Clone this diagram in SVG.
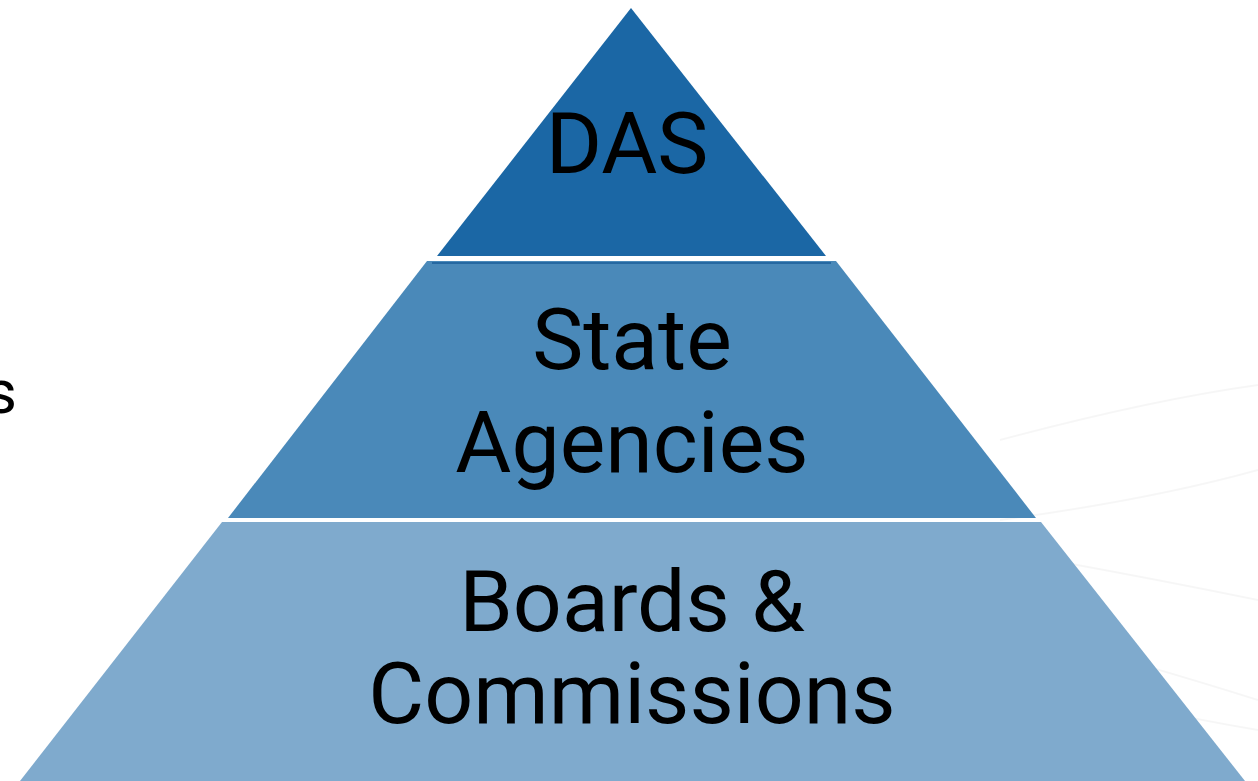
<svg xmlns="http://www.w3.org/2000/svg" width="1258" height="781" viewBox="0 0 1258 781">
<style>
.lbl{font-family:Roboto,"Liberation Sans",sans-serif;font-size:86px;fill:#000;text-anchor:middle}
.bg{fill:none;stroke:#000;stroke-opacity:0.035;stroke-width:2}
</style>
<rect width="1258" height="781" fill="#fff"/>
<g id="background">
<path class="bg" d="M1000 440 Q1150 400 1258 385"/>
<path class="bg" d="M1000 520 Q1150 500 1258 470"/>
<path class="bg" d="M1050 560 Q1160 580 1258 600"/>
<path class="bg" d="M900 600 Q1100 650 1258 700"/>
<path class="bg" d="M880 640 Q1080 700 1258 730"/>
<path class="bg" d="M300 720 Q500 680 700 690"/>
</g>
<g id="tier-das">
<polygon points="631,8 826,256 437,256" fill="#1B67A5"/>
<text class="lbl" x="627" y="173">DAS</text>
</g>
<g id="tier-state-agencies">
<polygon points="427,261 836,261 1036,518 228,518" fill="#4A89B9"/>
<line x1="432" y1="263" x2="831" y2="263" stroke="#1B5E9A" stroke-width="1.5"/>
<text class="lbl" x="632" y="369">State</text>
<text class="lbl" x="632" y="472">Agencies</text>
</g>
<g id="tier-boards">
<polygon points="222,522 1041,522 1245,781 20,781" fill="#7FAACD"/>
<text class="lbl" x="632" y="631">Boards &amp;</text>
<text class="lbl" x="632" y="723">Commissions</text>
</g>
<g id="connectors"/>
<text x="17" y="413" font-family="Roboto,'Liberation Sans',sans-serif" font-size="62" text-anchor="end" fill="#000">s</text>
</svg>
